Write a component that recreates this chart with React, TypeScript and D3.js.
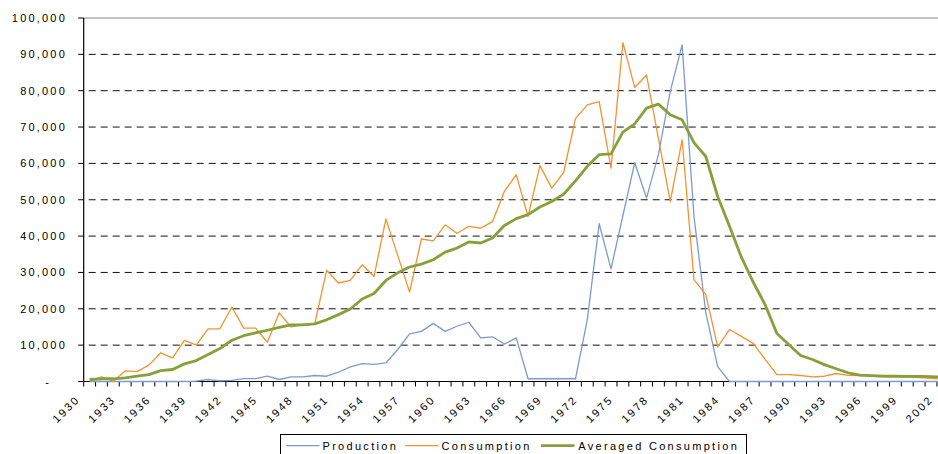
import React from "react";
import * as d3 from "d3";

const years = [
  1930, 1931, 1932, 1933, 1934, 1935, 1936, 1937, 1938, 1939,
  1940, 1941, 1942, 1943, 1944, 1945, 1946, 1947, 1948, 1949,
  1950, 1951, 1952, 1953, 1954, 1955, 1956, 1957, 1958, 1959,
  1960, 1961, 1962, 1963, 1964, 1965, 1966, 1967, 1968, 1969,
  1970, 1971, 1972, 1973, 1974, 1975, 1976, 1977, 1978, 1979,
  1980, 1981, 1982, 1983, 1984, 1985, 1986, 1987, 1988, 1989,
  1990, 1991, 1992, 1993, 1994, 1995, 1996, 1997, 1998, 1999,
  2000, 2001, 2002,
];

const production = [
  0, 0, 0, 0, 0, 0, 0, 0, 0, 100,
  550, 200, 300, 800, 800, 1450, 550, 1300, 1300, 1650,
  1450, 2550, 4000, 4900, 4700, 5100, 8800, 13100, 13800, 16000,
  13800, 15200, 16300, 12000, 12300, 10300, 12000, 750, 750, 750,
  750, 750, 17000, 43400, 31000, 45600, 60200, 50500, 62400, 79800,
  92600, 45400, 18900, 4100, 0, 0, 0, 0, 0, 0,
  0, 0, 0, 0, 0, 0, 0, 0, 0, 0,
  0, 0, 0,
];

const consumption = [
  200, 1300, 100, 2900, 2700, 4500, 7900, 6500, 11300, 10000,
  14500, 14500, 20500, 14700, 14700, 10800, 18900, 15000, 15700, 15900,
  30600, 27100, 27800, 32100, 28900, 44700, 34700, 24600, 39200, 38700,
  43100, 40700, 42700, 42200, 44000, 52300, 56900, 45400, 59400, 53200,
  57500, 72300, 76100, 77000, 58700, 93200, 80900, 84300, 66900, 49500,
  66500, 28000, 23900, 9500, 14300, 12400, 10500, 6100, 1900, 1900,
  1650, 1300, 1450, 2200, 1700, 1600, 1400, 1300, 1300, 1200,
  1100, 900, 600,
];

const averaged = [
  550, 750, 750, 1000, 1450, 1900, 3000, 3300, 4850, 5750,
  7400, 9050, 11350, 12600, 13350, 14100, 14900, 15550, 15600, 15850,
  17000, 18400, 19950, 22700, 24200, 27800, 29900, 31500, 32300, 33500,
  35600, 36700, 38400, 38100, 39500, 42900, 44800, 45900, 48000, 49500,
  51500, 55200, 59200, 62400, 62600, 68600, 70900, 75200, 76300, 73400,
  72000, 65700, 61900, 50900, 42700, 34200, 27300, 21150, 13200, 10200,
  7150, 6050, 4650, 3500, 2400, 1750, 1600, 1500, 1450, 1400,
  1400, 1350, 1200,
];

const yTicks = [0, 10000, 20000, 30000, 40000, 50000, 60000, 70000, 80000, 90000, 100000];
const yTickLabels = ["-", "10,000", "20,000", "30,000", "40,000", "50,000", "60,000", "70,000", "80,000", "90,000", "100,000"];
const xLabelYears = [1930, 1933, 1936, 1939, 1942, 1945, 1948, 1951, 1954, 1957, 1960, 1963, 1966, 1969, 1972, 1975, 1978, 1981, 1984, 1987, 1990, 1993, 1996, 1999, 2002];

const seriesNames = ["Production", "Consumption", "Averaged Consumption"];
const seriesColors = ["#7b9bd1", "#f5922f", "#86a03a"];

const W = 938;
const H = 454;
const FONT = "'Liberation Sans', Arial, sans-serif";

export default function App() {
  const left = 83.7;
  const step = 11.85;
  const x = d3.scaleBand<number>().domain(years).range([left, left + years.length * step]).padding(0);
  const y = d3.scaleLinear().domain([0, 100000]).range([381.5, 18]);
  const cx = (yr: number) => (x(yr) as number) + x.bandwidth() / 2;

  const line = d3
    .line<number>()
    .x((_, i) => cx(years[i]))
    .y((d) => y(d));

  const data = [production, consumption, averaged];
  const widths = [1.3, 1.3, 2.8];

  const legendItems = [
    { lx: 286, tx: 322.5 },
    { lx: 405, tx: 441.5 },
    { lx: 541, tx: 578.3 },
  ];

  return (
    <svg width={W} height={H} style={{ position: "absolute", left: 0, top: 0, background: "#fff" }}>
      {/* gridlines */}
      {yTicks.slice(1).map((t) =>
        t === 100000 ? (
          <line key={t} x1={left} x2={W} y1={y(t)} y2={y(t)} stroke="#8a8a8a" strokeWidth={1} />
        ) : (
          <line key={t} x1={left + 5} x2={W} y1={y(t)} y2={y(t)} stroke="#111" strokeWidth={1} strokeDasharray="7,5" />
        )
      )}
      {/* y axis */}
      <line x1={left} x2={left} y1={y(100000)} y2={y(0)} stroke="#000" strokeWidth={1.2} />
      {yTicks.map((t, i) => (
        <g key={t}>
          <line x1={left - 5.5} x2={left} y1={y(t)} y2={y(t)} stroke="#000" strokeWidth={1} />
          <text
            x={i === 0 ? 47 : 67}
            y={y(t) + 4}
            textAnchor={i === 0 ? "middle" : "end"}
            fontFamily={FONT}
            fontSize={11}
            letterSpacing={i === 0 ? 0 : 2.2}
            fill="#000"
          >
            {yTickLabels[i]}
          </text>
        </g>
      ))}
      {/* x axis */}
      <line x1={left} x2={W} y1={y(0)} y2={y(0)} stroke="#000" strokeWidth={1.2} />
      {years.map((yr) => (
        <line key={yr} x1={x(yr) as number} x2={x(yr) as number} y1={y(0)} y2={y(0) + 5} stroke="#000" strokeWidth={1} />
      ))}
      {xLabelYears.map((yr) => {
        const ax = cx(yr) - 9;
        const ay = 400;
        return (
          <text
            key={yr}
            x={ax}
            y={ay}
            transform={`rotate(-45, ${ax}, ${ay})`}
            textAnchor="end"
            fontFamily={FONT}
            fontSize={11}
            letterSpacing={2.2}
            fill="#000"
          >
            {yr}
          </text>
        );
      })}
      {/* series */}
      {data.map((d, i) => (
        <path key={i} d={line(d) as string} fill="none" stroke={seriesColors[i]} strokeWidth={widths[i]} strokeLinejoin="round" />
      ))}
      {/* legend */}
      <rect x={280.5} y={434.5} width={466} height={30} fill="#fff" stroke="#000" strokeWidth={1} />
      {seriesNames.map((name, i) => (
        <g key={name}>
          <line
            x1={legendItems[i].lx}
            x2={legendItems[i].lx + 33.5}
            y1={445.7}
            y2={445.7}
            stroke={seriesColors[i]}
            strokeWidth={widths[i]}
          />
          <text x={legendItems[i].tx} y={449.5} fontFamily={FONT} fontSize={11} letterSpacing={2.3} fill="#000">
            {name}
          </text>
        </g>
      ))}
    </svg>
  );
}
